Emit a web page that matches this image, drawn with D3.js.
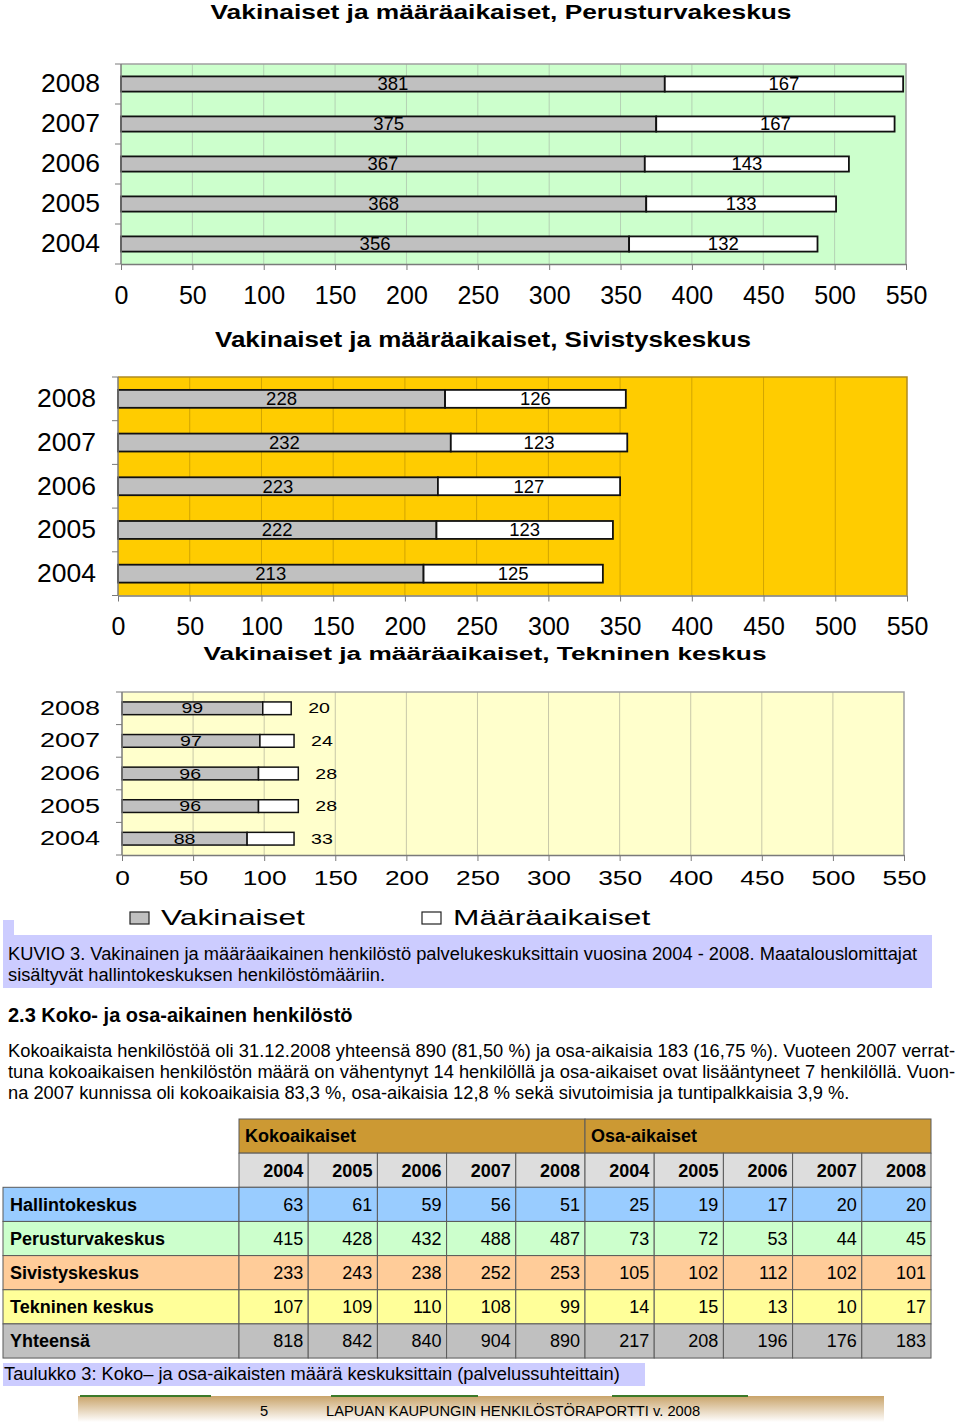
<!DOCTYPE html>
<html><head><meta charset="utf-8">
<script src="https://cdn.jsdelivr.net/npm/d3@7/dist/d3.min.js"></script>
<style>
body{margin:0;background:#fff}
svg text{font-family:"Liberation Sans",Arial,Helvetica,sans-serif}
</style>
</head><body>
<svg id="c" width="960" height="1425"></svg>
<script>
// ---------- DATA ----------
const years = ["2008","2007","2006","2005","2004"];
const xTicks = [0,50,100,150,200,250,300,350,400,450,500,550];
const perusVakinaiset = [381,375,367,368,356];
const perusMaaraaikaiset = [167,167,143,133,132];
const sivisVakinaiset = [228,232,223,222,213];
const sivisMaaraaikaiset = [126,123,127,123,125];
const tekVakinaiset = [99,97,96,96,88];
const tekMaaraaikaiset = [20,24,28,28,33];
const chartTitles = ["Vakinaiset ja määräaikaiset,  Perusturvakeskus","Vakinaiset ja määräaikaiset, Sivistyskeskus","Vakinaiset ja määräaikaiset, Tekninen keskus"];
const legendLabels = ["Vakinaiset","Määräaikaiset"];

const tableCenters = ["Hallintokeskus","Perusturvakeskus","Sivistyskeskus","Tekninen keskus","Yhteensä"];
const tableGroups = ["Kokoaikaiset","Osa-aikaiset"];
const tableYears = ["2004","2005","2006","2007","2008"];
const kokoaikaiset = [[63,61,59,56,51],[415,428,432,488,487],[233,243,238,252,253],[107,109,110,108,99],[818,842,840,904,890]];
const osaaikaiset = [[25,19,17,20,20],[73,72,53,44,45],[105,102,112,102,101],[14,15,13,10,17],[217,208,196,176,183]];

const captionLines = ["KUVIO 3. Vakinainen ja määräaikainen henkilöstö palvelukeskuksittain vuosina 2004 - 2008. Maatalouslomittajat","sisältyvät hallintokeskuksen henkilöstömääriin."];
const heading = "2.3 Koko- ja osa-aikainen henkilöstö";
const paragraph = ["Kokoaikaista henkilöstöä oli 31.12.2008 yhteensä 890 (81,50 %) ja osa-aikaisia 183 (16,75 %). Vuoteen 2007 verrat-","tuna kokoaikaisen henkilöstön määrä on vähentynyt 14 henkilöllä ja osa-aikaiset ovat lisääntyneet 7 henkilöllä. Vuon-","na 2007 kunnissa oli kokoaikaisia 83,3 %, osa-aikaisia 12,8 % sekä sivutoimisia ja tuntipalkkaisia 3,9 %."];
const tableCaption = "Taulukko 3: Koko– ja osa-aikaisten määrä keskuksittain (palvelussuhteittain)";
const footerPage = "5";
const footerText = "LAPUAN KAUPUNGIN HENKILÖSTÖRAPORTTI v. 2008";

// ---------- HELPERS ----------
const svg = d3.select("#c");
svg.append("rect").attr("width",960).attr("height",1425).attr("fill","#fff");
const FONT = '"Liberation Sans",Arial,Helvetica,sans-serif';
function stretch(sel,k){
  if(k===1) return sel;
  sel.each(function(){
    const w=this.getComputedTextLength();
    d3.select(this).attr("textLength",w*k).attr("lengthAdjust","spacingAndGlyphs");
  });
  return sel;
}

// ---------- CHARTS ----------
function drawChart(cfg){
  const g = svg.append("g");
  const x = d3.scaleLinear().domain([0,550]).range([cfg.x0,cfg.x1]);
  const y = d3.scaleBand().domain(years).range([cfg.y0,cfg.y1]).paddingInner(cfg.pad).paddingOuter(cfg.pad/2);
  const data = years.map((yr,i)=>({yr,v:cfg.vak[i],m:cfg.maar[i]}));

  // title
  g.append("text").attr("x",cfg.titleX).attr("y",cfg.titleY).attr("text-anchor","middle")
    .attr("font-weight","bold").attr("font-size",cfg.titleSize)
    .attr("textLength",cfg.titleW).attr("lengthAdjust","spacingAndGlyphs").text(cfg.title);

  // plot background
  g.append("rect").attr("x",cfg.x0).attr("y",cfg.y0).attr("width",cfg.x1-cfg.x0).attr("height",cfg.y1-cfg.y0).attr("fill",cfg.bg);
  // grid lines
  g.selectAll(".grid").data(xTicks.slice(1,-1)).join("line")
    .attr("x1",d=>x(d)).attr("x2",d=>x(d)).attr("y1",cfg.y0).attr("y2",cfg.y1)
    .attr("stroke",cfg.grid).attr("stroke-width",1);
  // plot border top + right
  g.append("path").attr("d",`M${cfg.x0},${cfg.y0}H${cfg.x1}V${cfg.y1}`).attr("fill","none").attr("stroke",cfg.border).attr("stroke-width",1.5);

  // bars
  g.selectAll(".bv").data(data).join("rect")
    .attr("x",x(0)).attr("y",d=>y(d.yr)).attr("width",d=>x(d.v)-x(0)).attr("height",y.bandwidth())
    .attr("fill","#c0c0c0").attr("stroke","#111").attr("stroke-width",cfg.sw);
  g.selectAll(".bm").data(data).join("rect")
    .attr("x",d=>x(d.v)).attr("y",d=>y(d.yr)).attr("width",d=>x(d.v+d.m)-x(d.v)).attr("height",y.bandwidth())
    .attr("fill","#fff").attr("stroke","#111").attr("stroke-width",cfg.sw);

  // data labels
  const lv = g.selectAll(".lv").data(data).join("text")
    .attr("x",d=>(x(0)+x(d.v))/2).attr("y",d=>y(d.yr)+y.bandwidth()/2).attr("dy","0.35em")
    .attr("text-anchor","middle").attr("font-size",cfg.labelSize).text(d=>d.v);
  stretch(lv,cfg.stretch||1);
  const lm = g.selectAll(".lm").data(data).join("text")
    .attr("x",d=>cfg.outside ? x(d.v+d.m)+cfg.outside : (x(d.v)+x(d.v+d.m))/2)
    .attr("y",d=>y(d.yr)+y.bandwidth()/2).attr("dy","0.35em")
    .attr("text-anchor",cfg.outside?"start":"middle").attr("font-size",cfg.labelSize).text(d=>d.m);
  stretch(lm,cfg.stretch||1);

  // left axis: line + ticks at band boundaries
  const bounds = d3.range(years.length+1).map(i=>cfg.y0+i*y.step());
  g.append("line").attr("x1",cfg.x0).attr("x2",cfg.x0).attr("y1",cfg.y0).attr("y2",cfg.y1).attr("stroke",cfg.axis).attr("stroke-width",1.5);
  g.selectAll(".lt").data(bounds).join("line").attr("x1",cfg.x0-6).attr("x2",cfg.x0).attr("y1",d=>d).attr("y2",d=>d).attr("stroke",cfg.axis);
  // year labels through axisLeft
  const ay = g.append("g").attr("transform",`translate(${cfg.x0},0)`)
    .call(d3.axisLeft(y).tickSize(0).tickPadding(cfg.x0-cfg.yearRight));
  ay.select(".domain").remove();
  ay.attr("font-family",FONT).attr("font-size",cfg.yearSize);
  ay.selectAll("text").attr("fill","#000");
  stretch(ay.selectAll("text"),cfg.stretch||1);

  // bottom axis
  const ax = g.append("g").attr("transform",`translate(0,${cfg.y1})`)
    .call(d3.axisBottom(x).tickValues(xTicks).tickSize(6).tickSizeOuter(0));
  ax.attr("font-family",FONT).attr("font-size",cfg.tickSize);
  ax.select(".domain").attr("stroke",cfg.axis).attr("stroke-width",1.5);
  ax.selectAll(".tick line").attr("stroke",cfg.axis);
  ax.selectAll("text").attr("fill","#000").attr("y",cfg.tickLabelY-cfg.y1).attr("dy","0.35em");
  stretch(ax.selectAll("text"),cfg.stretch||1);
}

drawChart({title:chartTitles[0],titleX:501,titleY:19,titleSize:21,titleW:581,
  x0:121,x1:906,y0:64,y1:264,pad:0.62,bg:"#ccffcc",grid:"#b4d2b4",border:"#a0a0a0",axis:"#7a7a7a",
  vak:perusVakinaiset,maar:perusMaaraaikaiset,sw:1.8,labelSize:18.5,yearRight:100,yearSize:26.5,tickSize:25,tickLabelY:295});

drawChart({title:chartTitles[1],titleX:483,titleY:347,titleSize:22,titleW:536,
  x0:118,x1:907,y0:377,y1:595.5,pad:0.59,bg:"#ffcc00",grid:"#d2a500",border:"#b08a20",axis:"#7a7a7a",
  vak:sivisVakinaiset,maar:sivisMaaraaikaiset,sw:1.8,labelSize:18.5,yearRight:96,yearSize:26.5,tickSize:25,tickLabelY:626});

drawChart({title:chartTitles[2],titleX:485,titleY:660,titleSize:18,titleW:563,
  x0:122,x1:904,y0:692,y1:855,pad:0.61,bg:"#ffffcc",grid:"#c8c8a8",border:"#a0a0a0",axis:"#7a7a7a",
  vak:tekVakinaiset,maar:tekMaaraaikaiset,sw:1.5,labelSize:14.5,outside:17,stretch:1.35,yearRight:100,yearSize:20,tickSize:19.5,tickLabelY:878});

// legend
const legendX = [130,422];
const legendFill = ["#c0c0c0","#fff"];
const lg = svg.append("g");
lg.selectAll("rect").data(legendLabels).join("rect")
  .attr("x",(d,i)=>legendX[i]).attr("y",912).attr("width",19).attr("height",12)
  .attr("fill",(d,i)=>legendFill[i]).attr("stroke","#222").attr("stroke-width",1.2);
const lt = lg.selectAll("text").data(legendLabels).join("text")
  .attr("x",(d,i)=>legendX[i]+31).attr("y",925).attr("font-size",22).text(d=>d);
stretch(lt,1.44);

// caption box
svg.append("rect").attr("x",3).attr("y",920).attr("width",11).attr("height",16).attr("fill","#ccccff");
svg.append("rect").attr("x",3).attr("y",935).attr("width",929).attr("height",53).attr("fill","#ccccff");
svg.selectAll(".cap").data(captionLines).join("text").attr("class","cap")
  .attr("x",8).attr("y",(d,i)=>960+i*21).attr("font-size",18.3).text(d=>d);

// heading & paragraph
svg.append("text").attr("x",8).attr("y",1022).attr("font-size",20).attr("font-weight","bold").text(heading);
svg.selectAll(".par").data(paragraph).join("text").attr("class","par")
  .attr("x",8).attr("y",(d,i)=>1057+i*21).attr("font-size",18.3).text(d=>d)
  .each(function(d,i){ if(i<2) d3.select(this).attr("textLength",947).attr("lengthAdjust","spacing"); });

// ---------- TABLE ----------
const tX0 = 3, tC0 = 239, tX1 = 931;
const colW = (tX1-tC0)/10;
const rowTop = 1119, rowH = 34.15;
const colX = d3.range(11).map(i=>tC0+i*colW);
const rowY = i=>rowTop+i*rowH;
const rowFill = ["#99ccff","#ccffcc","#ffcc99","#ffff99","#c0c0c0"];
const lineC = "#5a5a5a";
const tb = svg.append("g").attr("font-size",18);

tableGroups.forEach((gname,gi)=>{
  const gx = colX[gi*5];
  tb.append("rect").attr("x",gx).attr("y",rowY(0)).attr("width",colW*5).attr("height",rowH)
    .attr("fill","#cc9933").attr("stroke",lineC).attr("stroke-width",1);
  tb.append("text").attr("x",gx+6).attr("y",rowY(0)+rowH/2).attr("dy","0.35em").attr("font-weight","bold").text(gname);
});
const yearCols = d3.range(10).map(i=>({i,label:tableYears[i%5]}));
tb.selectAll(".yh").data(yearCols).join("rect").attr("x",d=>colX[d.i]).attr("y",rowY(1)).attr("width",colW).attr("height",rowH)
  .attr("fill","#dddddd").attr("stroke",lineC).attr("stroke-width",1);
tb.selectAll(".yt").data(yearCols).join("text").attr("x",d=>colX[d.i+1]-5).attr("y",rowY(1)+rowH/2).attr("dy","0.35em")
  .attr("text-anchor","end").attr("font-weight","bold").text(d=>d.label);
tableCenters.forEach((name,r)=>{
  const y0 = rowY(r+2);
  tb.append("rect").attr("x",tX0).attr("y",y0).attr("width",tC0-tX0).attr("height",rowH).attr("fill",rowFill[r]).attr("stroke",lineC).attr("stroke-width",1);
  tb.append("text").attr("x",10).attr("y",y0+rowH/2).attr("dy","0.35em").attr("font-weight","bold").text(name);
  const vals = kokoaikaiset[r].concat(osaaikaiset[r]);
  vals.forEach((v,c)=>{
    tb.append("rect").attr("x",colX[c]).attr("y",y0).attr("width",colW).attr("height",rowH).attr("fill",rowFill[r]).attr("stroke",lineC).attr("stroke-width",1);
    tb.append("text").attr("x",colX[c+1]-5).attr("y",y0+rowH/2).attr("dy","0.35em").attr("text-anchor","end").text(v);
  });
});

// table caption
svg.append("rect").attr("x",3).attr("y",1363).attr("width",642).attr("height",23).attr("fill","#ccccff");
svg.append("text").attr("x",4).attr("y",1380).attr("font-size",18.3).text(tableCaption);

// ---------- FOOTER ----------
const defs = svg.append("defs");
const gr = defs.append("linearGradient").attr("id","fg").attr("x1",0).attr("y1",0).attr("x2",0).attr("y2",1);
gr.append("stop").attr("offset","0%").attr("stop-color","#c9a46a");
gr.append("stop").attr("offset","100%").attr("stop-color","#ffffff");
svg.append("rect").attr("x",78).attr("y",1396).attr("width",806).attr("height",26).attr("fill","url(#fg)");
const greenSegs = [[80,211],[331,478],[612,748]];
svg.selectAll(".gs").data(greenSegs).join("line").attr("x1",d=>d[0]).attr("x2",d=>d[1]).attr("y1",1396).attr("y2",1396)
  .attr("stroke","#3c7a2a").attr("stroke-width",2);
svg.append("text").attr("x",264).attr("y",1416).attr("text-anchor","middle").attr("font-size",14.7).text(footerPage);
svg.append("text").attr("x",326).attr("y",1416).attr("font-size",14.7).text(footerText);
</script>
</body></html>
